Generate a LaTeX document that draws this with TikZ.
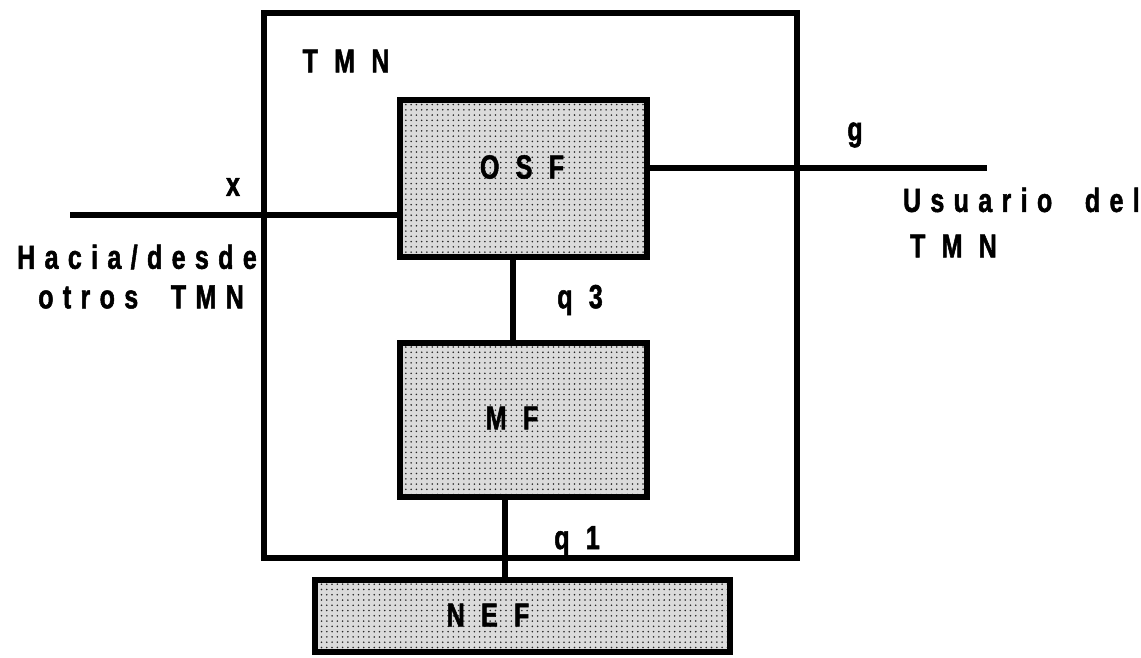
\documentclass[tikz,border=0pt]{standalone}
\usepackage{fontspec}
\usepackage{tikz}
\usetikzlibrary{patterns}
\newfontfamily\lblfont[FakeStretch=0.75,LetterSpace=28,FakeBold=1.5]{Liberation Sans Bold}

\begin{document}
\begin{tikzpicture}[x=0.02cm, y=-0.02cm, line width=3.4pt,
  fbox/.style={draw, rectangle, inner sep=0pt, preaction={fill=gray!28},
    pattern=dots, pattern color=black!85},
  lbl/.style={font=\lblfont\fontsize{19}{22}\selectfont, inner sep=0pt}]
\useasboundingbox (0,0) rectangle (1141,658);
\node[draw, rectangle, minimum width=10.66cm, minimum height=10.9cm] (TMN) at (530.5,285.5) {};
\node[fbox, minimum width=4.94cm, minimum height=3.14cm] (OSF) at (523.5,178.5) {};
\node[fbox, minimum width=4.94cm, minimum height=3.08cm] (MF) at (523.5,420) {};
\node[fbox, minimum width=8.3cm, minimum height=1.44cm] (NEF) at (522.5,616) {};
\coordinate (xend) at (70,215);
\coordinate (gend) at (987,168);
\draw (xend) -- (xend -| OSF.west);
\draw (OSF.east |- gend) -- (gend);
\draw ([xshift=-0.21cm]OSF.south) -- ([xshift=-0.21cm]MF.north);
\draw ([xshift=-0.37cm]MF.south) -- ([xshift=-0.37cm]MF.south |- NEF.north);
% labels
\node[lbl] (tmnlbl) at (346,61) {T M N};
\node[lbl] (osflbl) at (522,167) {O S F};
\node[lbl] (mflbl) at (512,418) {M F};
\node[lbl] (neflbl) at (488,615) {N E F};
\node[lbl] (xlbl) at (233,187) {x};
\node[lbl] (glbl) at (855,135) {g};
\node[lbl] (q3lbl) at (580,300) {q 3};
\node[lbl] (q1lbl) at (577,541) {q 1};
\node[lbl] (hacia) at (137,257) {Hacia/desde};
\node[lbl] (otros) at (141,297) {otros\ \ TMN};
\node[lbl, anchor=west] (usuario) at (900,200) {Usuario\ \ del};
\node[lbl, anchor=west] (tmnusr) at (907,246) {T M N};
\end{tikzpicture}
\end{document}
